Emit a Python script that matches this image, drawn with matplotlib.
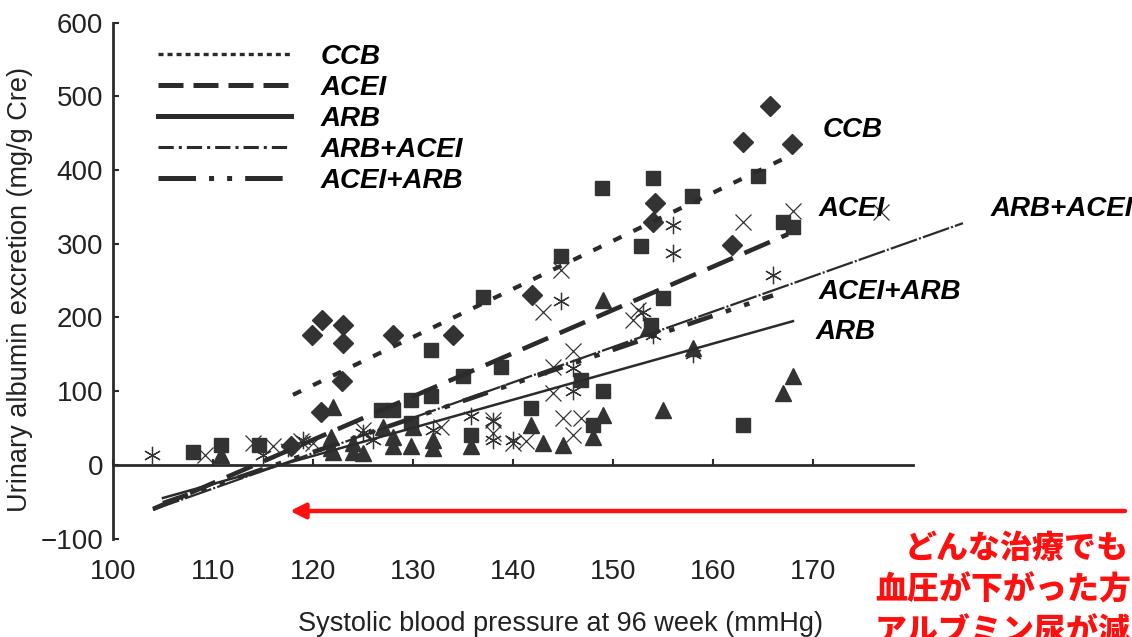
import matplotlib
matplotlib.use("Agg")
import matplotlib.pyplot as plt
from matplotlib.lines import Line2D

plt.rcParams['lines.scale_dashes'] = False

# scatter points (systolic BP, albumin excretion)
diamond_x = [120.9, 119.9, 123, 123, 122.9, 128, 134, 120.8, 117.8, 141.9, 154.2, 154, 161.9, 163, 165.7, 167.9]
diamond_y = [197, 176, 190, 166, 114, 176, 176, 72, 25, 231, 355, 330, 298, 438, 487, 436]

square_x = [108, 110.8, 114.6, 126.8, 128, 129.8, 131.8, 131.8, 135, 138.8, 137, 144.8, 148.9, 154, 157.9,
            152.8, 155, 164.5, 167, 168, 141.8, 146.8, 149, 148, 163, 135.8, 129.8, 153.8]
square_y = [18, 27, 27, 75, 75, 88, 93, 156, 121, 133, 228, 283, 376, 389, 365,
            297, 226, 392, 330, 323, 77, 115, 100, 54, 54, 41, 57, 190]

triangle_x = [110.8, 121.8, 121.8, 122, 124, 124, 125, 127, 128, 128, 129.8, 130, 132, 132, 135.8,
              141.8, 143, 145, 148, 149, 149, 153.5, 155, 158, 167, 168, 122]
triangle_y = [14, 23, 38, 18, 29, 18, 16, 52, 25, 38, 25, 52, 23, 34, 25,
              54, 30, 27, 38, 68, 224, 186, 75, 158, 97, 120, 78]

cross_x = [109.2, 114, 116, 120, 125, 132.8, 138, 138, 140, 141.3, 143, 144, 144, 145, 146.8, 146,
           146, 144.8, 152.5, 152, 163, 168, 176.8, 118.8]
cross_y = [14, 29, 25, 29, 47, 52, 61, 43, 30, 32, 208, 133, 98, 64, 64, 41,
           154, 265, 210, 197, 330, 344, 343, 32]

star_x = [103.9, 115, 117.5, 119, 125, 126, 132, 135.8, 138, 138, 140, 144.8, 146, 146,
          153, 154, 156, 156, 158, 166]
star_y = [14, 14, 23, 34, 43, 34, 47, 66, 34, 59, 34, 222, 132, 100,
          208, 176, 326, 287, 150, 258]

# regression lines (start / end)
ccb_x, ccb_y = [118, 167], [95, 415]
acei_x, acei_y = [104, 167.5], [-60, 313]
arb_x, arb_y = [105, 168], [-45, 195]
arb_acei_x, arb_acei_y = [104, 185], [-61, 328]
acei_arb_x, acei_arb_y = [105, 166], [-52, 230]

groups = ["CCB", "ACEI", "ARB", "ARB+ACEI", "ACEI+ARB"]

narrow = ['Liberation Sans Narrow', 'Liberation Sans', 'DejaVu Sans']
dark = '#2b2b2b'

fig = plt.figure(figsize=(11.32, 6.37), dpi=100)
ax = fig.add_axes([0.0998, 0.1546, 0.7067, 0.8097])

mk = dict(color='#333333', linestyle='none', clip_on=False)
ax.plot(diamond_x, diamond_y, marker='D', markersize=10, **mk)
ax.plot(square_x, square_y, marker='s', markersize=10.5, **mk)
ax.plot(triangle_x, triangle_y, marker='^', markersize=11, **mk)
ax.plot(cross_x, cross_y, marker='x', markersize=11.5, markeredgewidth=0.9, **mk)
ax.plot(star_x, star_y, marker=(6, 2, 0), markersize=12.5, markeredgewidth=0.9, **mk)

ax.plot(ccb_x, ccb_y, color=dark, lw=3.0, dashes=(6.5, 9.5), dash_capstyle='butt', clip_on=False)
ax.plot(acei_x, acei_y, color=dark, lw=3.3, dashes=(20, 9), dash_capstyle='butt', clip_on=False)
ax.plot(arb_x, arb_y, color=dark, lw=1.8, clip_on=False)
ax.plot(arb_acei_x, arb_acei_y, color=dark, lw=1.6, dashes=(20, 1.5, 1.5, 1.5), clip_on=False)
ax.plot(acei_arb_x, acei_arb_y, color=dark, lw=3.3, dashes=(19, 10, 4, 10, 4, 10),
        dash_capstyle='butt', clip_on=False)

ax.set_xlim(100, 180)
ax.set_ylim(-100, 600)
ax.set_xticks(range(100, 180, 10))
ax.set_yticks(range(-100, 700, 100))
ax.spines['top'].set_visible(False)
ax.spines['right'].set_visible(False)
ax.spines['bottom'].set_position(('data', 0))
for s in ['left', 'bottom']:
    ax.spines[s].set_linewidth(2.0)
    ax.spines[s].set_color(dark)
ax.tick_params(axis='both', direction='in', length=4, width=1.5, color=dark)
ax.tick_params(axis='x', pad=68)
ax.tick_params(axis='y', pad=7)
for lab in ax.get_xticklabels() + ax.get_yticklabels():
    lab.set_family(narrow)
    lab.set_fontsize(20)
    lab.set_color('#222222')

ax.set_xlabel("Systolic blood pressure at 96 week (mmHg)", family=narrow, fontsize=19.5,
              color='#222222')
ax.xaxis.set_label_coords(0.559, -0.14)
ax.set_ylabel("Urinary albumin excretion (mg/g Cre)", family=narrow, fontsize=19.5,
              color='#222222')
ax.yaxis.set_label_coords(-0.1, 0.483)

# legend with its own line styles
handles = [
    Line2D([], [], color=dark, lw=2.4, dashes=(3.6, 2.9), dash_capstyle='butt'),
    Line2D([], [], color=dark, lw=3.6, dashes=(18, 7.2), dash_capstyle='butt'),
    Line2D([], [], color=dark, lw=3.6),
    Line2D([], [], color=dark, lw=2.2, dashes=(11, 3.6, 2.2, 3.6), dash_capstyle='butt'),
    Line2D([], [], color=dark, lw=3.6, dashes=(27, 9.4, 3.6, 9.4, 3.6, 9.4), dash_capstyle='butt'),
]
leg = ax.legend(handles, groups, loc='upper left', bbox_to_anchor=(158 / 1132, 1 - 44 / 637),
                bbox_transform=fig.transFigure, frameon=False, handlelength=4.8,
                handletextpad=1.05, labelspacing=0.18, borderpad=0, borderaxespad=0,
                prop=dict(family=narrow, weight='bold', style='italic', size=20))

# labels at the right end of each line
lab_x = [171, 170.6, 187.8, 170.6, 170.3]
lab_y = [454, 347, 347, 235, 180]
lab_txt = ["CCB", "ACEI", "ARB+ACEI", "ACEI+ARB", "ARB"]
for tx, ty, t in zip(lab_x, lab_y, lab_txt):
    ax.text(tx, ty, t, family=narrow, weight='bold', style='italic', fontsize=20,
            va='center', ha='left', color='black', clip_on=False)

# red arrow and note
ax.annotate("", xy=(290 / 1132, 1 - 511 / 637), xytext=(1125 / 1132, 1 - 511 / 637),
            xycoords='figure fraction', textcoords='figure fraction',
            arrowprops=dict(arrowstyle='-|>,head_length=0.9,head_width=0.45',
                            color='#ff1010', lw=3.2, shrinkA=0, shrinkB=0))

jp = ['Noto Sans CJK JP', 'DejaVu Sans']
note = ["どんな治療でも", "血圧が下がった方", "アルブミン尿が減"]
note_x = [905, 875, 875]
note_y = [548, 590, 631]
for t, nx, ny in zip(note, note_x, note_y):
    fig.text(nx / 1132, 1 - ny / 637, t, family=jp, weight='black', fontsize=23,
             color='#ff1010', ha='left', va='center')

fig.savefig("out.png", dpi=100)
